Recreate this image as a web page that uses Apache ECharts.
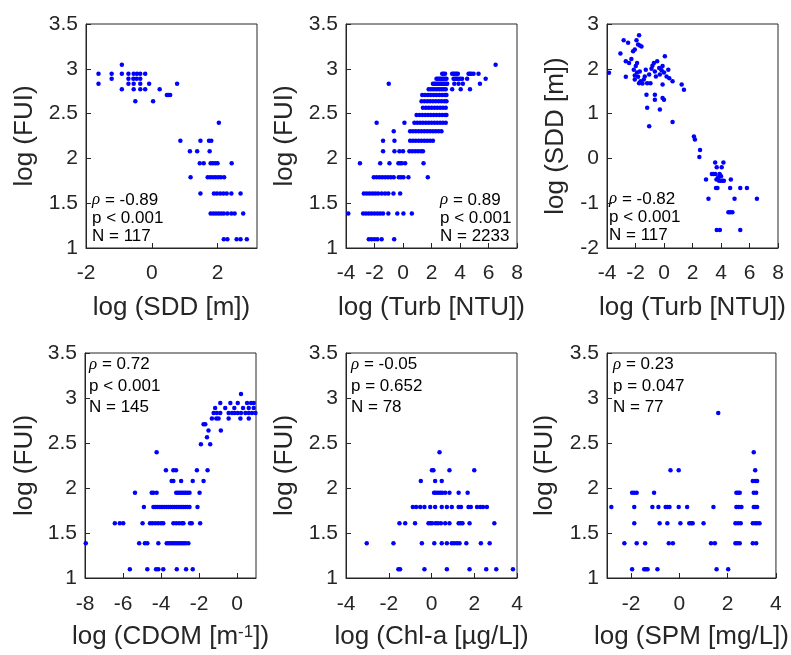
<!DOCTYPE html>
<html><head><meta charset="utf-8">
<script src="https://cdn.jsdelivr.net/npm/echarts@6/dist/echarts.min.js"></script>
<style>html,body{margin:0;padding:0;background:#fff}#c{width:791px;height:655px}</style>
</head><body><div id="c"></div>
<script>
// ---------- DATA ----------
// rows: [log(FUI) level, [x values at that level]]
const sddRows = [
  [3.045, [-0.91]],
  [2.944, [-1.62, -1.22, -0.91, -0.71, -0.55, -0.45, -0.35, -0.2]],
  [2.89,  [-1.22, -0.71, -0.56, -0.46, -0.35]],
  [2.833, [-1.62, -0.71, -0.55, -0.35, -0.08, 0.77]],
  [2.773, [-0.91, -0.55, -0.35, -0.2, 0.24]],
  [2.708, [0.46, 0.5, 0.56]],
  [2.639, [-0.5, 0.04]],
  [2.398, [2.04]],
  [2.197, [0.87, 1.48, 1.74, 1.81]],
  [2.079, [1.16, 1.38, 1.76]],
  [1.946, [1.46, 1.58, 1.79, 1.86, 1.93, 2.0, 2.43]],
  [1.79,  [1.18, 1.7, 1.78, 1.86, 1.94, 2.02, 2.1, 2.2]],
  [1.609, [1.48, 1.89, 1.98, 2.08, 2.18, 2.28, 2.42, 2.7]],
  [1.386, [1.79, 1.87, 1.95, 2.03, 2.11, 2.19, 2.3, 2.42, 2.52, 2.78]],
  [1.0986,[2.19, 2.3, 2.58, 2.7, 2.89]]
];
const turbFuiRows = [
  [3.045, [6.5]],
  [2.944, [2.75, 2.85, 2.95, 3.45, 3.55, 3.65, 3.75, 3.85, 4.6, 4.7, 4.8, 4.95, 5.3]],
  [2.89,  [2.35, 2.45, 2.55, 2.65, 2.75, 2.85, 2.95, 3.05, 3.55, 3.65, 3.75, 3.85, 4.0, 4.15, 4.5, 5.8]],
  [2.833, [-1.0, 2.1, 2.2, 2.3, 2.4, 2.5, 2.6, 2.7, 2.8, 2.9, 3.0, 3.1, 3.6, 3.9, 4.2, 5.4]],
  [2.773, [1.8, 1.95, 2.1, 2.25, 2.4, 2.55, 2.7, 2.85, 3.0, 3.45, 4.05, 4.7]],
  [2.708, [1.35, 1.55, 1.75, 1.95, 2.15, 2.35, 2.55, 2.75, 2.95, 3.05]],
  [2.639, [1.3, 1.5, 1.7, 1.9, 2.1, 2.3, 2.5, 2.7, 2.9, 3.05]],
  [2.565, [1.4, 1.6, 1.8, 2.0, 2.2, 2.4, 2.6, 2.8, 3.0]],
  [2.485, [0.95, 1.15, 1.35, 1.55, 1.75, 1.95, 2.15, 2.35, 2.55, 2.75, 2.95, 3.05]],
  [2.398, [-1.85, 0.1, 0.8, 1.0, 1.2, 1.4, 1.6, 1.8, 2.0, 2.2, 2.4, 2.6, 2.8, 3.0]],
  [2.303, [-0.65, 0.5, 0.7, 0.9, 1.1, 1.3, 1.5, 1.7, 1.9, 2.1, 2.3, 2.5, 2.7]],
  [2.197, [-1.4, -0.6, 0.5, 0.7, 0.9, 1.1, 1.3, 1.5, 1.7, 1.9, 2.1]],
  [2.079, [-1.4, -0.6, -0.25, 0.0, 0.45, 0.65, 0.85, 1.05, 1.25, 1.4]],
  [1.946, [-3.02, -1.6, -0.95, -0.32, -0.2, -0.08, 0.15, 1.44]],
  [1.79,  [-2.05, -1.85, -1.65, -1.45, -1.25, -1.05, -0.85, -0.65, -0.3, -0.15, 0.03, 0.38, 1.74]],
  [1.609, [-2.75, -2.55, -2.35, -2.15, -1.95, -1.75, -1.5, -1.26, -1.03, -0.67, -0.2]],
  [1.386, [-3.84, -2.8, -2.6, -2.4, -2.2, -2.0, -1.8, -1.6, -1.4, -1.03, -0.4, 0.03, 0.62]],
  [1.0986,[-2.4, -2.2, -2.0, -1.8, -1.5, -0.62]]
];
// [log Turb, log SDD]
const turbSddPoints = [
  [-3.86,1.91],[-3.06,2.34],[-2.83,2.64],[-2.68,1.82],[-2.68,2.17],[-2.52,2.58],[-2.45,2.13],[-2.29,2.22],
  [-2.17,2.39],[-2.05,2.43],[-1.93,2.64],[-1.82,2.54],[-1.75,2.75],[-1.7,2.52],[-1.58,2.5],
  [-2.12,1.98],[-2.05,1.85],[-1.98,2.06],[-1.89,1.92],[-1.82,1.82],[-1.7,1.94],[-1.65,1.72],[-1.51,1.67],
  [-1.42,1.76],[-1.35,1.83],[-1.28,1.98],[-1.18,1.68],[-1.04,1.87],[-0.95,1.68],[-0.88,2.0],[-0.81,2.07],
  [-0.71,2.13],[-0.64,1.94],[-0.57,1.83],[-0.48,2.17],[-0.34,2.02],[-0.29,1.87],[-0.17,1.97],[-0.1,2.06],
  [0.0,1.92],[0.06,2.28],[0.18,1.83],[0.3,1.98],[0.37,1.79],[0.6,1.72],[1.24,1.65],[1.4,1.53],
  [-2.05,1.76],[-1.89,2.13],[-1.75,1.68],
  [-1.23,1.42],[-1.18,1.13],[-1.04,0.72],[-0.64,1.31],[-0.64,1.42],[-0.29,1.09],[-0.1,1.35],[0.0,1.31],
  [0.6,0.81],[-0.1,1.65],
  [2.1,0.49],[2.17,0.42],[2.53,0.19],[2.48,0.03],[2.95,-0.47],[3.12,-0.9],[3.59,-0.09],[4.17,-0.09],
  [3.36,-0.35],[3.48,-0.35],[3.6,-0.35],[3.9,-0.35],[3.95,-0.38],[3.7,-0.2],[4.05,-0.2],[3.68,-0.47],
  [3.86,-0.5],[3.98,-0.5],[4.1,-0.5],[4.2,-0.5],[3.65,-0.66],[3.75,-0.66],[4.69,-0.47],[4.64,-0.66],
  [5.35,-0.66],[5.82,-0.66],[4.95,-0.9],[6.52,-0.9],[4.52,-1.2],[4.65,-1.2],[4.8,-1.2],[3.7,-1.6],
  [3.92,-1.6],[5.35,-1.6],[4.0,-0.4],[3.8,-0.42]
];
const cdomRows = [
  [3.045, [0.21]],
  [2.944, [-0.88, -0.35, 0.04, 0.53, 0.74, 0.88]],
  [2.89,  [-1.15, -0.62, -0.14, 0.32, 0.62, 0.88]],
  [2.833, [-1.23, -1.06, -0.88, -0.44, -0.26, -0.12, 0.04, 0.21, 0.44, 0.62, 0.79, 0.97]],
  [2.773, [-1.32, -1.09, -0.97, -0.44, 0.18, 0.62]],
  [2.708, [-1.76, -1.67]],
  [2.639, [-1.5, -0.85]],
  [2.565, [-1.58]],
  [2.485, [-1.9, -1.41]],
  [2.398, [-4.23]],
  [2.197, [-3.74, -3.35, -3.21, -2.11, -1.55]],
  [2.079, [-3.44, -3.35, -2.94, -2.33, -1.76]],
  [1.946, [-5.37, -4.49, -4.4, -4.23, -3.2, -3.1, -3.0, -2.9, -2.8, -2.7, -2.6, -2.5, -1.97]],
  [1.79,  [-4.9, -4.4, -4.3, -4.2, -4.1, -4.0, -3.9, -3.8, -3.7, -3.6, -3.5, -3.4, -3.3, -3.2, -3.1, -3.0, -2.9, -2.8, -2.7, -2.6, -2.5, -2.08]],
  [1.609, [-6.43, -6.17, -5.99, -4.97, -4.58, -4.45, -4.3, -4.15, -4.0, -3.88, -3.35, -3.2, -3.05, -2.9, -2.82, -2.47, -2.38, -1.94]],
  [1.386, [-7.96, -5.15, -4.85, -4.72, -4.14, -3.7, -3.6, -3.5, -3.4, -3.3, -3.2, -3.1, -3.0, -2.9, -2.8, -2.7, -2.56]],
  [1.0986,[-5.64, -4.72, -4.26, -4.14, -3.88, -3.17, -2.68, -2.33]]
];
const chlRows = [
  [2.398, [0.375]],
  [2.197, [0.02, 0.09, 0.84, 2.0]],
  [2.079, [-0.5, 0.17, 0.48]],
  [1.946, [0.12, 0.2, 0.3, 0.4, 0.5, 0.64, 0.84, 1.27, 1.69]],
  [1.79,  [-0.875, -0.72, -0.53, -0.33, -0.06, 0.17, 0.48, 0.72, 0.95, 1.27, 1.38, 1.73, 1.84, 2.13, 2.28, 2.41, 2.59]],
  [1.609, [-1.5, -1.23, -0.77, -0.14, -0.05, 0.03, 0.19, 0.3, 0.44, 0.64, 0.84, 1.27, 1.36, 1.45, 1.78, 2.94]],
  [1.386, [-3.03, -1.78, -0.45, 0.13, 0.48, 0.72, 0.95, 1.06, 1.19, 1.31, 1.63, 2.31, 2.72]],
  [1.0986,[-1.55, -1.47, -0.33, 0.72, 1.78, 2.56, 3.03, 3.81]]
];
const spmRows = [
  [2.833, [1.61]],
  [2.398, [3.08]],
  [2.197, [-0.37, -0.03, 3.14]],
  [2.079, [3.04, 3.14, 3.22]],
  [1.946, [-1.96, -1.87, -1.77, -1.05, 2.36, 2.43, 2.5, 3.08, 3.18]],
  [1.79,  [-2.82, -1.87, -1.12, -0.87, -0.57, -0.5, -0.41, -0.03, 0.32, 1.41, 2.36, 2.46, 2.57, 3.08, 3.14, 3.22]],
  [1.609, [-1.87, -0.82, -0.5, 0.04, 0.41, 0.49, 0.55, 1.0, 2.32, 2.43, 2.54, 3.04, 3.14, 3.22, 3.32]],
  [1.386, [-2.28, -1.77, -1.42, -0.44, -0.27, 1.31, 1.47, 2.32, 2.4, 2.5, 3.04, 3.18]],
  [1.0986,[-1.96, -1.46, -1.39, -1.32, -0.91, 1.54, 2.02]]
];
const rhoVals = ['-0.89', '0.89', '-0.82', '0.72', '-0.05', '0.23'];
const pTexts  = ['p < 0.001', 'p < 0.001', 'p < 0.001', 'p < 0.001', 'p = 0.652', 'p = 0.047'];
const nVals   = [117, 2233, 117, 145, 78, 77];
const xNames  = ['log (SDD [m])', 'log (Turb [NTU])', 'log (Turb [NTU])', 'log (CDOM [m{sup|-1}])', 'log (Chl-a [µg/L])', 'log (SPM [mg/L])'];
const yNames  = ['log (FUI)', 'log (FUI)', 'log (SDD [m])', 'log (FUI)', 'log (FUI)', 'log (FUI)'];
const xRanges = [[-2, 3.2], [-4, 8], [-4, 8], [-8, 1], [-4, 4], [-3, 4]];
const xTicks  = [[-2, 0, 2], [-4, -2, 0, 2, 4, 6, 8], [-4, -2, 0, 2, 4, 6, 8], [-8, -6, -4, -2, 0], [-4, -2, 0, 2, 4], [-2, 0, 2, 4]];
const yRanges = [[1, 3.5, 0.5], [1, 3.5, 0.5], [-2, 3, 1], [1, 3.5, 0.5], [1, 3.5, 0.5], [1, 3.5, 0.5]];

// ---------- build ----------
function flatten(rows) {
  const out = [];
  rows.forEach(r => r[1].forEach(x => out.push([x, r[0]])));
  return out;
}
const seriesData = [flatten(sddRows), flatten(turbFuiRows), turbSddPoints, flatten(cdomRows), flatten(chlRows), flatten(spmRows)];

const FONT = 'Liberation Sans, Arial, sans-serif';
const AX = '#262626';
const grids = [
  {left: 86, top: 24, width: 171, height: 224},
  {left: 346, top: 24, width: 171, height: 224},
  {left: 607, top: 24, width: 171, height: 224},
  {left: 85, top: 353, width: 171, height: 225},
  {left: 346, top: 353, width: 171, height: 225},
  {left: 607, top: 353, width: 171, height: 225}
];
const yNameGap = [48, 48, 38, 47, 48, 49];

const option = {
  animation: false,
  backgroundColor: '#fff',
  grid: grids.map(g => Object.assign({show: true, borderColor: AX, borderWidth: 1, backgroundColor: '#fff'}, g)),
  xAxis: xRanges.map((r, i) => ({
    type: 'value', gridIndex: i, min: r[0], max: r[1],
    name: xNames[i], nameLocation: 'middle', nameGap: i < 3 ? 47 : 46,
    nameTextStyle: {fontSize: 26, color: AX, fontFamily: FONT,
      rich: {sup: {fontSize: 17, verticalAlign: 'top', lineHeight: 17, color: AX, fontFamily: FONT}}},
    axisLine: {show: true, onZero: false, lineStyle: {color: AX, width: 1}},
    axisTick: {show: true, inside: true, length: 5, customValues: xTicks[i], lineStyle: {color: AX}},
    axisLabel: {customValues: xTicks[i], fontSize: 21, margin: i < 3 ? 15 : 16, color: AX, fontFamily: FONT},
    splitLine: {show: false}
  })),
  yAxis: yRanges.map((r, i) => ({
    type: 'value', gridIndex: i, min: r[0], max: r[1], interval: r[2],
    name: yNames[i], nameLocation: 'middle', nameGap: yNameGap[i],
    nameTextStyle: {fontSize: 26, color: AX, fontFamily: FONT},
    axisLine: {show: true, onZero: false, lineStyle: {color: AX, width: 1}},
    axisTick: {show: true, inside: true, length: 5, lineStyle: {color: AX}},
    axisLabel: {fontSize: 21, margin: 8, color: AX, fontFamily: FONT, showMinLabel: true, showMaxLabel: true},
    splitLine: {show: false}
  })),
  series: seriesData.map((d, i) => ({
    type: 'scatter', xAxisIndex: i, yAxisIndex: i, data: d,
    symbol: 'circle', symbolSize: 4.5,
    itemStyle: {color: '#0000ff', opacity: 1},
    emphasis: {disabled: true}, silent: true
  })),
  graphic: []
};

// annotation text blocks
const textPos = [[92, 191, 18], [440, 191, 18], [609, 190, 18], [89, 354, 21.5], [351, 354, 21.5], [613, 354, 21.5]];
textPos.forEach((p, i) => {
  option.graphic.push({
    type: 'text', x: p[0], y: p[1], silent: true,
    style: {
      text: '{r|ρ} = ' + rhoVals[i] + '\n' + pTexts[i] + '\nN = ' + nVals[i],
      fontSize: 17, fontFamily: FONT, fill: '#000', lineHeight: p[2],
      rich: {r: {fontFamily: 'Liberation Serif, serif', fontStyle: 'italic', fontSize: 17, lineHeight: p[2], fill: '#000'}}
    }
  });
});

const chart = echarts.init(document.getElementById('c'), null, {renderer: 'canvas'});
chart.setOption(option);
</script>
</body></html>
